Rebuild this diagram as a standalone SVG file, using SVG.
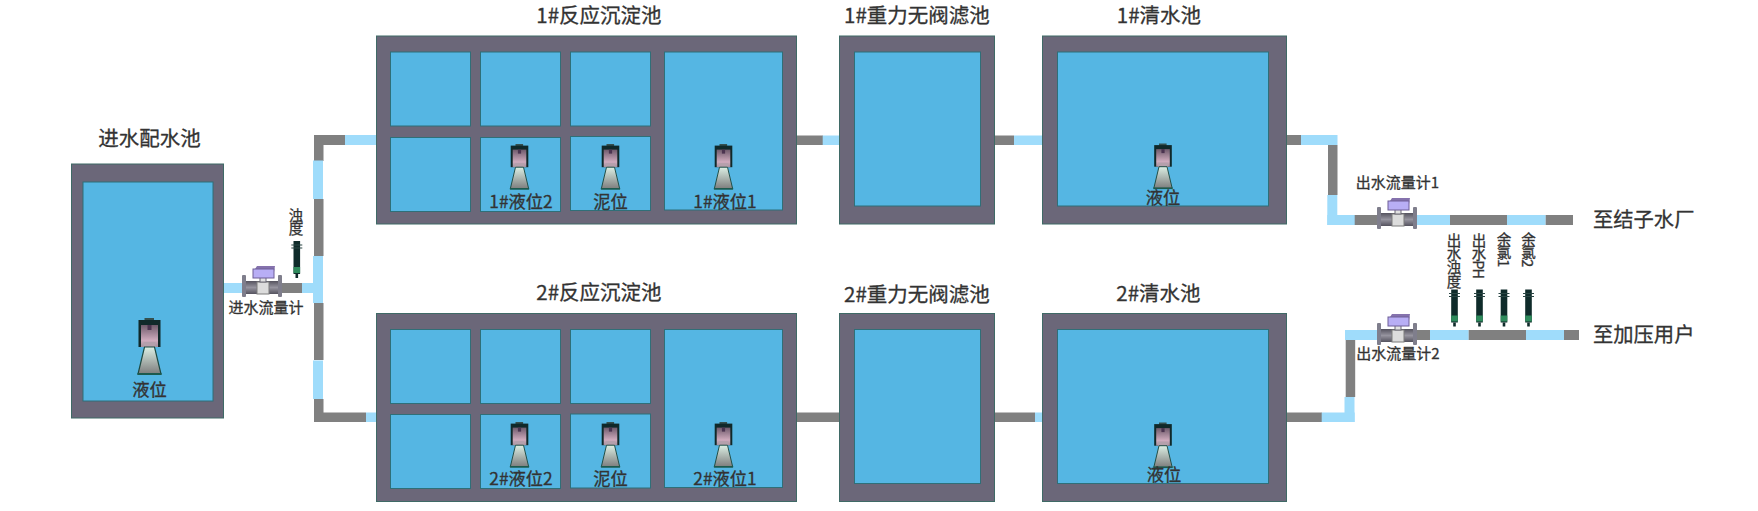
<svg xmlns="http://www.w3.org/2000/svg" width="1758" height="511" viewBox="0 0 1758 511">
<style>
text{font-family:"Noto Sans CJK SC","Noto Sans",sans-serif;fill:#333;stroke:#333;stroke-width:.3px}
.t{font-size:20.500px;text-anchor:middle}
.l{font-size:17.300px;text-anchor:middle}
.s{font-size:15px;text-anchor:middle}
.e{font-size:20.300px}
.v{font-size:14.500px;writing-mode:vertical-rl;letter-spacing:-.9px}
.o{fill:#6b6779;stroke:#3f6a66;stroke-width:1}
.i{fill:#55b6e3;stroke:#2f6f78;stroke-width:1}
.g{fill:#808080}
.b{fill:#9fdcfb}
</style>
<defs>
<linearGradient id="pink" x1="0" x2="0" y1="0" y2="1"><stop offset="0" stop-color="#6f5b6c"/><stop offset=".7" stop-color="#cfabbd"/><stop offset="1" stop-color="#a48e9c"/></linearGradient>
<linearGradient id="cone" x1="0" x2="0" y1="0" y2="1"><stop offset="0" stop-color="#dcefe4"/><stop offset="1" stop-color="#7d7d7d"/></linearGradient>
<linearGradient id="body" x1="0" x2="0" y1="0" y2="1"><stop offset="0" stop-color="#55535f"/><stop offset=".5" stop-color="#96949f"/><stop offset="1" stop-color="#55535f"/></linearGradient>
<symbol id="level" overflow="visible">
<rect x="-5" y="0" width="9.500" height="3" fill="#35504f"/>
<rect x="-11" y="2" width="22" height="27" fill="#10292a"/>
<rect x="-8.500" y="7" width="17" height="22" fill="url(#pink)"/>
<rect x="-2" y="7" width="4" height="5" fill="#4b3450"/>
<rect x="-6" y="24" width="12" height="5" fill="#b5a0ac"/>
<path d="M-5 29H5L11.500 56H-11.500Z" fill="url(#cone)" stroke="#1d4a42" stroke-width="1.200"/>
<rect x="-12" y="55" width="24" height="2" fill="#1c5a4e"/>
</symbol>
<symbol id="probe" overflow="visible">
<rect x="-3.300" y="0" width="6.600" height="33" fill="#0f2b2a"/>
<rect x="-5.500" y="3.500" width="11" height="1" fill="#2a4644"/>
<rect x="-5.500" y="6.500" width="11" height="1" fill="#2a4644"/>
<rect x="-3.300" y="26" width="6.600" height="6" fill="#2f8a5c"/>
<rect x="-1.300" y="33" width="2.600" height="4" fill="#0f2b2a"/>
</symbol>
<symbol id="valve" overflow="visible">
<rect x="4" y="15" width="32" height="13" fill="url(#body)"/>
<rect x="0" y="9" width="4" height="22" rx="1" fill="#7f7e8c"/>
<rect x="36" y="9" width="4" height="22" rx="1" fill="#7f7e8c"/>
<rect x="15" y="16" width="12" height="12" fill="#dcdcdc" stroke="#7d7d7d" stroke-width="1"/>
<rect x="18" y="8" width="6" height="8" fill="#e2e2e2" stroke="#6a6875" stroke-width="1"/>
<path d="M13 3L15 0H33L32 6H13Z" fill="#8572ad"/>
<rect x="11" y="3" width="21" height="9" fill="#b8aef5" stroke="#6e5f97" stroke-width="1"/>
</symbol>
</defs>

<g id="connectors">
<rect class="b" x="223" y="283" width="20" height="10"/><rect class="g" x="282" y="283" width="21" height="10"/><rect class="b" x="302" y="283" width="21" height="10"/>
<rect class="g" x="314" y="135" width="32" height="10"/><rect class="b" x="345" y="135" width="32" height="10"/>
<rect class="g" x="314" y="135" width="9.500" height="26"/><rect class="b" x="313" y="160.500" width="10" height="38.500"/>
<rect class="g" x="314" y="199" width="9.500" height="57"/><rect class="b" x="313" y="256" width="10" height="47"/>
<rect class="g" x="314" y="303" width="9.500" height="57"/><rect class="b" x="313" y="360.500" width="10" height="38.500"/>
<rect class="g" x="314" y="399" width="9.500" height="23"/><rect class="g" x="314" y="412.500" width="52" height="9.500"/><rect class="b" x="366" y="412.500" width="11" height="9.500"/>
<rect class="g" x="796" y="135.500" width="27" height="9.500"/><rect class="b" x="822.700" y="135.500" width="17" height="9.500"/>
<rect class="g" x="995" y="135.500" width="19" height="9.500"/><rect class="b" x="1014" y="135.500" width="28.500" height="9.500"/>
<rect class="g" x="1287" y="135" width="14" height="10"/><rect class="b" x="1301" y="135" width="36.500" height="10"/>
<rect class="g" x="1328" y="145" width="9.500" height="50"/><rect class="b" x="1327.300" y="195" width="10" height="30"/>
<rect class="b" x="1327.300" y="215" width="28" height="10"/><rect class="g" x="1354.700" y="215" width="24" height="10"/>
<rect class="b" x="1416" y="215" width="34" height="10"/><rect class="g" x="1450" y="215" width="57" height="10"/><rect class="b" x="1507" y="215" width="38.700" height="10"/><rect class="g" x="1545.700" y="215" width="27.300" height="10"/>
<rect class="g" x="796" y="412.500" width="44" height="9.500"/>
<rect class="g" x="995" y="412.500" width="40" height="9.500"/><rect class="b" x="1035" y="412.500" width="7.500" height="9.500"/>
<rect class="g" x="1287" y="412.500" width="35" height="9.500"/><rect class="b" x="1321.700" y="412.500" width="33" height="9.500"/>
<rect class="b" x="1344.500" y="397" width="10" height="25"/><rect class="g" x="1345.700" y="340" width="9.500" height="57"/>
<rect class="b" x="1345" y="330" width="33" height="10"/><rect class="g" x="1416" y="330" width="14" height="10"/>
<rect class="b" x="1430" y="330" width="38.700" height="10"/><rect class="g" x="1468.700" y="330" width="57.300" height="10"/><rect class="b" x="1526" y="330" width="38" height="10"/><rect class="g" x="1564" y="330" width="15" height="10"/>
</g>

<g id="inlet-tank">
<rect class="o" x="71.500" y="164" width="152" height="254"/>
<rect class="i" x="83" y="182" width="130" height="219"/>
<text class="t" x="149.500" y="146">进水配水池</text>
<use href="#level" x="149.500" y="318"/>
<text class="l" x="149.500" y="396">液位</text>
</g>

<g id="inlet-flowmeter">
<use href="#valve" x="242" y="266"/>
<text class="s" x="266" y="313">进水流量计</text>
</g>
<g id="turbidity">
<use href="#probe" x="296.800" y="241"/>
<text class="v" x="296" y="208">浊度</text>
</g>

<g id="reactor-1">
<rect class="o" x="376.500" y="36" width="420" height="188"/>
<rect class="i" x="390.500" y="52" width="80" height="74"/><rect class="i" x="480.500" y="52" width="80" height="74"/><rect class="i" x="570.500" y="52" width="80" height="74"/><rect class="i" x="664.500" y="52" width="118" height="158"/>
<rect class="i" x="390.500" y="137.500" width="80" height="74"/><rect class="i" x="480.500" y="137.500" width="80" height="74"/><rect class="i" x="570.500" y="136.500" width="80" height="74"/>
<text class="t" x="599" y="23">1#反应沉淀池</text>
<use href="#level" transform="translate(519.500 144) scale(.8)"/>
<use href="#level" transform="translate(610.500 144) scale(.8)"/>
<use href="#level" transform="translate(723.500 144) scale(.8)"/>
<text class="l" x="521" y="208">1#液位2</text>
<text class="l" x="610.500" y="208">泥位</text>
<text class="l" x="725" y="208">1#液位1</text>
</g>

<g id="reactor-2">
<rect class="o" x="376.500" y="313.500" width="420" height="188"/>
<rect class="i" x="390.500" y="329.500" width="80" height="74"/><rect class="i" x="480.500" y="329.500" width="80" height="74"/><rect class="i" x="570.500" y="329.500" width="80" height="74"/><rect class="i" x="664.500" y="329.500" width="118" height="158"/>
<rect class="i" x="390.500" y="414.500" width="80" height="74"/><rect class="i" x="480.500" y="414.500" width="80" height="74"/><rect class="i" x="570.500" y="414" width="80" height="74"/>
<text class="t" x="599" y="300">2#反应沉淀池</text>
<use href="#level" transform="translate(519.500 422) scale(.8)"/>
<use href="#level" transform="translate(610.500 422) scale(.8)"/>
<use href="#level" transform="translate(723.500 422) scale(.8)"/>
<text class="l" x="521" y="485">2#液位2</text>
<text class="l" x="610.500" y="485">泥位</text>
<text class="l" x="725" y="485">2#液位1</text>
</g>

<g id="filter-1">
<rect class="o" x="839.500" y="36" width="155" height="188"/>
<rect class="i" x="854.500" y="52" width="126" height="154"/>
<text class="t" x="917" y="23">1#重力无阀滤池</text>
</g>
<g id="filter-2">
<rect class="o" x="839.500" y="313.500" width="155" height="188"/>
<rect class="i" x="854.500" y="329.500" width="126" height="154"/>
<text class="t" x="917" y="302">2#重力无阀滤池</text>
</g>

<g id="clear-1">
<rect class="o" x="1042.500" y="36" width="244" height="188"/>
<rect class="i" x="1057.500" y="52" width="211" height="154"/>
<text class="t" x="1159" y="23">1#清水池</text>
<use href="#level" transform="translate(1163 143.500) scale(.8)"/>
<text class="l" x="1163" y="204">液位</text>
</g>
<g id="clear-2">
<rect class="o" x="1042.500" y="313.500" width="244" height="188"/>
<rect class="i" x="1057.500" y="329.500" width="211" height="154"/>
<text class="t" x="1158.500" y="301">2#清水池</text>
<use href="#level" transform="translate(1163 422.500) scale(.8)"/>
<text class="l" x="1164" y="481">液位</text>
</g>

<g id="outlet-flowmeter-1">
<use href="#valve" x="1377" y="198"/>
<text class="s" x="1397.500" y="188">出水流量计1</text>
</g>
<g id="outlet-flowmeter-2">
<use href="#valve" x="1377" y="314"/>
<text class="s" x="1398" y="359">出水流量计2</text>
</g>

<g id="outlet-turbidity">
<use href="#probe" x="1454.500" y="289.500"/>
<text class="v" x="1454" y="233">出水浊度</text>
</g>
<g id="outlet-ph">
<use href="#probe" x="1479.500" y="289.500"/>
<text class="v" x="1479" y="233">出水PH</text>
</g>
<g id="residual-chlorine-1">
<use href="#probe" x="1504" y="289.500"/>
<text class="v" x="1504" y="232">余氯1</text>
</g>
<g id="residual-chlorine-2">
<use href="#probe" x="1528.500" y="289.500"/>
<text class="v" x="1528.500" y="232">余氯2</text>
</g>

<g id="dest-1"><text class="e" x="1593" y="227">至结子水厂</text></g>
<g id="dest-2"><text class="e" x="1593" y="342">至加压用户</text></g>
</svg>
